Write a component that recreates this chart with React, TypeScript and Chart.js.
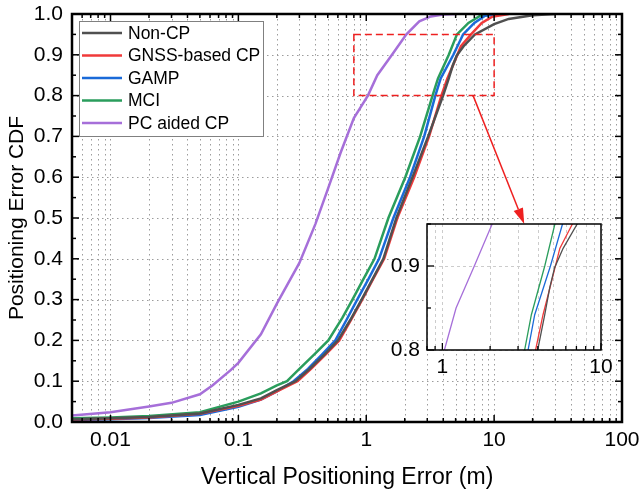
import React, { useEffect, useRef } from 'react';
import { Chart, registerables } from 'chart.js';
Chart.register(...registerables);

const FONT = "'Liberation Sans', Arial, Helvetica, sans-serif";

// ---- data ----
const seriesNames = ['Non-CP', 'GNSS-based CP', 'GAMP', 'MCI', 'PC aided CP'];
const seriesColors = ['#505050', '#f03a3a', '#1a6ad8', '#2a9d5c', '#a66fd9'];

const nonCpX = [0.005, 0.01, 0.02, 0.05, 0.1, 0.15, 0.2, 0.28, 0.36, 0.47, 0.6, 0.75, 0.92, 1.12, 1.36, 1.72, 2.3, 3.05, 3.99, 4.42, 4.75, 5.1, 5.77, 7.08, 10, 13, 20, 30];
const nonCpY = [0.007, 0.009, 0.012, 0.021, 0.042, 0.058, 0.078, 0.10, 0.13, 0.165, 0.20, 0.25, 0.30, 0.35, 0.40, 0.50, 0.60, 0.70, 0.80, 0.842, 0.874, 0.898, 0.921, 0.95, 0.975, 0.988, 0.997, 1.0];

const gnssX = [0.005, 0.01, 0.02, 0.05, 0.1, 0.15, 0.2, 0.29, 0.37, 0.48, 0.615, 0.76, 0.93, 1.13, 1.38, 1.75, 2.37, 3.1, 3.87, 4.31, 4.87, 5.5, 6.6, 8.0, 9.6, 13];
const gnssY = [0.006, 0.008, 0.011, 0.02, 0.04, 0.055, 0.075, 0.10, 0.13, 0.165, 0.20, 0.25, 0.30, 0.35, 0.40, 0.50, 0.60, 0.70, 0.80, 0.842, 0.881, 0.921, 0.95, 0.978, 0.993, 1.0];

const gampX = [0.005, 0.01, 0.02, 0.05, 0.1, 0.15, 0.2, 0.27, 0.35, 0.45, 0.573, 0.7, 0.85, 1.04, 1.26, 1.63, 2.2, 2.84, 3.47, 3.82, 4.8, 5.72, 7.0, 8.5, 12];
const gampY = [0.005, 0.007, 0.01, 0.017, 0.037, 0.055, 0.075, 0.10, 0.13, 0.165, 0.20, 0.25, 0.30, 0.35, 0.40, 0.50, 0.60, 0.70, 0.80, 0.842, 0.90, 0.95, 0.978, 0.996, 1.0];

const mciX = [0.005, 0.01, 0.02, 0.05, 0.1, 0.15, 0.2, 0.24, 0.3, 0.4, 0.505, 0.65, 0.78, 0.95, 1.16, 1.49, 2.02, 2.64, 3.3, 3.64, 4.42, 5.12, 6.3, 7.8, 10];
const mciY = [0.009, 0.011, 0.015, 0.024, 0.05, 0.07, 0.09, 0.10, 0.13, 0.168, 0.20, 0.255, 0.30, 0.35, 0.40, 0.50, 0.60, 0.70, 0.80, 0.842, 0.90, 0.95, 0.978, 0.996, 1.0];

const pcX = [0.005, 0.01, 0.02, 0.03, 0.05, 0.063, 0.087, 0.1, 0.15, 0.2, 0.3, 0.4, 0.5, 0.63, 0.8, 1.03, 1.22, 1.59, 2.06, 2.6, 3.2, 4.0, 5.0];
const pcY = [0.016, 0.024, 0.038, 0.047, 0.068, 0.09, 0.127, 0.145, 0.215, 0.29, 0.39, 0.485, 0.57, 0.66, 0.745, 0.80, 0.85, 0.90, 0.95, 0.982, 0.994, 0.999, 1.0];

const seriesX = [nonCpX, gnssX, gampX, mciX, pcX];
const seriesY = [nonCpY, gnssY, gampY, mciY, pcY];

// main axes
const xMin = 0.005, xMax = 100;
const xMajorTicks = [0.01, 0.1, 1, 10, 100];
const xTickLabels = ['0.01', '0.1', '1', '10', '100'];
const yMajorTicks = [0, 0.1, 0.2, 0.3, 0.4, 0.5, 0.6, 0.7, 0.8, 0.9, 1.0];
const yTickLabels = ['0.0', '0.1', '0.2', '0.3', '0.4', '0.5', '0.6', '0.7', '0.8', '0.9', '1.0'];
const yMinorTicks = [0.05, 0.15, 0.25, 0.35, 0.45, 0.55, 0.65, 0.75, 0.85, 0.95];

// inset (zoom window)
const zoomXMin = 0.8, zoomXMax = 10, zoomYMin = 0.8, zoomYMax = 0.95;
const insetXMajor = [1, 10];
const insetXLabels = ['1', '10'];
const insetYMajor = [0.8, 0.9];
const insetYLabels = ['0.8', '0.9'];
const insetYMinor = [0.85, 0.95];
const arrowFrom = [6.85, 0.8];
const arrowTo = [17.2, 0.485];

const xTitle = 'Vertical Positioning Error (m)';
const yTitle = 'Positioning Error CDF';

function logTickValues(min: number, max: number) {
  const out: number[] = [];
  for (let k = -4; k <= 3; k++) {
    for (let m = 1; m <= 9; m++) {
      const v = parseFloat((m * Math.pow(10, k)).toPrecision(6));
      if (v >= min * 0.9999 && v <= max * 1.0001) out.push(v);
    }
  }
  return out;
}
function isIn(arr: number[], v: number) {
  return arr.findIndex((m) => Math.abs(m - v) / Math.max(Math.abs(m), 1e-9) < 1e-6);
}

function makeDatasets(lw: number) {
  return seriesNames.map((name, i) => ({
    label: name,
    data: seriesX[i].map((x, j) => ({ x, y: seriesY[i][j] })),
    borderColor: seriesColors[i],
    backgroundColor: seriesColors[i],
    borderWidth: lw,
    pointRadius: 0,
    tension: 0,
    fill: false,
  }));
}

function line(ctx: CanvasRenderingContext2D, x1: number, y1: number, x2: number, y2: number) {
  ctx.beginPath();
  ctx.moveTo(x1, y1);
  ctx.lineTo(x2, y2);
  ctx.stroke();
}

const mainDecor = {
  id: 'mainDecor',
  beforeDatasetsDraw(chart: any) {
    const { ctx, chartArea: a, scales } = chart;
    const x = scales.x, y = scales.y;
    ctx.save();
    ctx.strokeStyle = '#9c9c9c';
    ctx.lineWidth = 1;
    ctx.setLineDash([1.5, 3.5]);
    for (const t of x.ticks) {
      const px = Math.round(x.getPixelForValue(t.value)) + 0.5;
      line(ctx, px, a.top, px, a.bottom);
    }
    for (const v of yMajorTicks) {
      const py = Math.round(y.getPixelForValue(v)) + 0.5;
      line(ctx, a.left, py, a.right, py);
    }
    ctx.restore();
  },
  afterDatasetsDraw(chart: any) {
    const { ctx, chartArea: a, scales } = chart;
    const x = scales.x, y = scales.y;
    ctx.save();
    // dashed zoom rectangle
    const rx1 = x.getPixelForValue(zoomXMin), rx2 = x.getPixelForValue(zoomXMax);
    const ry1 = y.getPixelForValue(zoomYMax), ry2 = y.getPixelForValue(zoomYMin);
    ctx.strokeStyle = '#ee2020';
    ctx.lineWidth = 1.5;
    ctx.setLineDash([7, 4]);
    ctx.strokeRect(rx1, ry1, rx2 - rx1, ry2 - ry1);
    ctx.setLineDash([]);
    // arrow
    const ax1 = x.getPixelForValue(arrowFrom[0]), ay1 = y.getPixelForValue(arrowFrom[1]);
    const ax2 = x.getPixelForValue(arrowTo[0]), ay2 = y.getPixelForValue(arrowTo[1]);
    const ang = Math.atan2(ay2 - ay1, ax2 - ax1);
    const hl = 16, hw = 5;
    const bx = ax2 - hl * Math.cos(ang), by = ay2 - hl * Math.sin(ang);
    line(ctx, ax1, ay1, bx, by);
    ctx.fillStyle = '#ee2020';
    ctx.beginPath();
    ctx.moveTo(ax2, ay2);
    ctx.lineTo(bx + hw * Math.sin(ang), by - hw * Math.cos(ang));
    ctx.lineTo(bx - hw * Math.sin(ang), by + hw * Math.cos(ang));
    ctx.closePath();
    ctx.fill();

    // ticks (inward)
    ctx.strokeStyle = '#000';
    ctx.lineWidth = 1.5;
    for (const t of x.ticks) {
      const px = x.getPixelForValue(t.value);
      const len = isIn(xMajorTicks, t.value) >= 0 ? 7 : 4;
      line(ctx, px, a.bottom, px, a.bottom - len);
      line(ctx, px, a.top, px, a.top + len);
    }
    for (const v of yMajorTicks) {
      const py = y.getPixelForValue(v);
      line(ctx, a.left, py, a.left + 7, py);
      line(ctx, a.right, py, a.right - 7, py);
    }
    for (const v of yMinorTicks) {
      const py = y.getPixelForValue(v);
      line(ctx, a.left, py, a.left + 4, py);
      line(ctx, a.right, py, a.right - 4, py);
    }
    // frame
    ctx.lineWidth = 2.5;
    ctx.strokeRect(a.left, a.top, a.right - a.left, a.bottom - a.top);

    // legend
    const lx = 79, ly = 21, lw = 184, lh = 115;
    ctx.fillStyle = '#fff';
    ctx.fillRect(lx, ly, lw, lh);
    ctx.strokeStyle = '#808080';
    ctx.lineWidth = 1;
    ctx.strokeRect(lx + 0.5, ly + 0.5, lw, lh);
    ctx.font = `17.5px ${FONT}`;
    ctx.textBaseline = 'middle';
    ctx.textAlign = 'left';
    seriesNames.forEach((name, i) => {
      const cy = 33 + i * 22.5;
      ctx.strokeStyle = seriesColors[i];
      ctx.lineWidth = 2.5;
      line(ctx, 82, cy, 122, cy);
      ctx.fillStyle = '#000';
      ctx.fillText(name, 128, cy + 1);
    });
    ctx.restore();
  },
};

const insetDecor = {
  id: 'insetDecor',
  beforeDatasetsDraw(chart: any) {
    const { ctx, chartArea: a, scales } = chart;
    const x = scales.x, y = scales.y;
    ctx.save();
    ctx.fillStyle = '#fff';
    ctx.fillRect(a.left, a.top, a.right - a.left, a.bottom - a.top);
    ctx.strokeStyle = '#cccccc';
    ctx.lineWidth = 1;
    ctx.setLineDash([3, 3]);
    for (const t of x.ticks) {
      const px = Math.round(x.getPixelForValue(t.value)) + 0.5;
      line(ctx, px, a.top, px, a.bottom);
    }
    for (const v of insetYMajor) {
      const py = Math.round(y.getPixelForValue(v)) + 0.5;
      line(ctx, a.left, py, a.right, py);
    }
    ctx.restore();
  },
  afterDatasetsDraw(chart: any) {
    const { ctx, chartArea: a, scales } = chart;
    const x = scales.x, y = scales.y;
    ctx.save();
    ctx.strokeStyle = '#000';
    ctx.lineWidth = 1.3;
    for (const t of x.ticks) {
      const px = x.getPixelForValue(t.value);
      const len = isIn(insetXMajor, t.value) >= 0 ? 7 : 4;
      line(ctx, px, a.bottom, px, a.bottom - len);
    }
    for (const v of insetYMajor) {
      const py = y.getPixelForValue(v);
      line(ctx, a.left, py, a.left + 7, py);
    }
    for (const v of insetYMinor) {
      const py = y.getPixelForValue(v);
      line(ctx, a.left, py, a.left + 4, py);
    }
    ctx.lineWidth = 1.5;
    ctx.strokeRect(a.left, a.top, a.right - a.left, a.bottom - a.top);
    ctx.restore();
  },
};

const fitX = (h: number) => (s: any) => {
  s.height = h;
  s.paddingLeft = 0;
  s.paddingRight = 0;
  s.paddingTop = 0;
  s.paddingBottom = 0;
};
const fitY = (w: number) => (s: any) => {
  s.width = w;
  s.paddingLeft = 0;
  s.paddingRight = 0;
  s.paddingTop = 0;
  s.paddingBottom = 0;
};

export default function App() {
  const mainRef = useRef<HTMLCanvasElement>(null);
  const insetRef = useRef<HTMLCanvasElement>(null);

  useEffect(() => {
    const mainTicks = logTickValues(xMin, xMax);
    const main = new Chart(mainRef.current as HTMLCanvasElement, {
      type: 'line',
      data: { datasets: makeDatasets(2.5) as any },
      plugins: [mainDecor],
      options: {
        responsive: false,
        animation: false,
        layout: { padding: { left: 0, top: 14, right: 17, bottom: 0 } },
        plugins: { legend: { display: false }, tooltip: { enabled: false } },
        scales: {
          x: {
            type: 'logarithmic',
            min: xMin,
            max: xMax,
            afterBuildTicks: (s: any) => {
              s.ticks = mainTicks.map((v) => ({ value: v }));
            },
            afterFit: fitX(69),
            grid: { display: false, drawTicks: false },
            border: { display: false },
            ticks: {
              autoSkip: false,
              maxRotation: 0,
              padding: 6,
              color: '#000',
              font: { family: FONT, size: 21 },
              callback: (v: any) => {
                const i = isIn(xMajorTicks, Number(v));
                return i >= 0 ? xTickLabels[i] : '';
              },
            },
            title: {
              display: true,
              text: xTitle,
              color: '#000',
              font: { family: FONT, size: 23 },
              padding: { top: 0, bottom: 0 },
            },
          },
          y: {
            type: 'linear',
            min: 0,
            max: 1,
            afterBuildTicks: (s: any) => {
              s.ticks = yMajorTicks.map((v) => ({ value: v }));
            },
            afterFit: fitY(72),
            grid: { display: false, drawTicks: false },
            border: { display: false },
            ticks: {
              autoSkip: false,
              padding: 9,
              color: '#000',
              font: { family: FONT, size: 21 },
              callback: (v: any) => {
                const i = isIn(yMajorTicks, Number(v));
                return i >= 0 ? yTickLabels[i] : '';
              },
            },
            title: {
              display: true,
              text: yTitle,
              color: '#000',
              font: { family: FONT, size: 21 },
              padding: { top: 5, bottom: 0 },
            },
          },
        },
      } as any,
    });

    const insetTicks = logTickValues(zoomXMin, zoomXMax);
    const inset = new Chart(insetRef.current as HTMLCanvasElement, {
      type: 'line',
      data: { datasets: makeDatasets(1.3).map((d) => ({ ...d, clip: 0 })) as any },
      plugins: [insetDecor],
      options: {
        responsive: false,
        animation: false,
        layout: { padding: { left: 0, top: 14, right: 14, bottom: 0 } },
        plugins: { legend: { display: false }, tooltip: { enabled: false } },
        scales: {
          x: {
            type: 'logarithmic',
            min: zoomXMin,
            max: zoomXMax,
            afterBuildTicks: (s: any) => {
              s.ticks = insetTicks.map((v) => ({ value: v }));
            },
            afterFit: fitX(35),
            grid: { display: false, drawTicks: false },
            border: { display: false },
            ticks: {
              autoSkip: false,
              maxRotation: 0,
              padding: 5,
              color: '#000',
              font: { family: FONT, size: 21 },
              callback: (v: any) => {
                const i = isIn(insetXMajor, Number(v));
                return i >= 0 ? insetXLabels[i] : '';
              },
            },
          },
          y: {
            type: 'linear',
            min: zoomYMin,
            max: zoomYMax,
            afterBuildTicks: (s: any) => {
              s.ticks = insetYMajor.map((v) => ({ value: v }));
            },
            afterFit: fitY(52),
            grid: { display: false, drawTicks: false },
            border: { display: false },
            ticks: {
              autoSkip: false,
              padding: 7,
              color: '#000',
              font: { family: FONT, size: 21 },
              callback: (v: any) => {
                const i = isIn(insetYMajor, Number(v));
                return i >= 0 ? insetYLabels[i] : '';
              },
            },
          },
        },
      } as any,
    });

    return () => {
      main.destroy();
      inset.destroy();
    };
  }, []);

  return (
    <div style={{ position: 'fixed', left: 0, top: 0, width: 639, height: 491, background: '#fff' }}>
      <canvas ref={mainRef} width={639} height={491} style={{ position: 'absolute', left: 0, top: 0 }} />
      <canvas ref={insetRef} width={240} height={175} style={{ position: 'absolute', left: 375, top: 210 }} />
    </div>
  );
}
